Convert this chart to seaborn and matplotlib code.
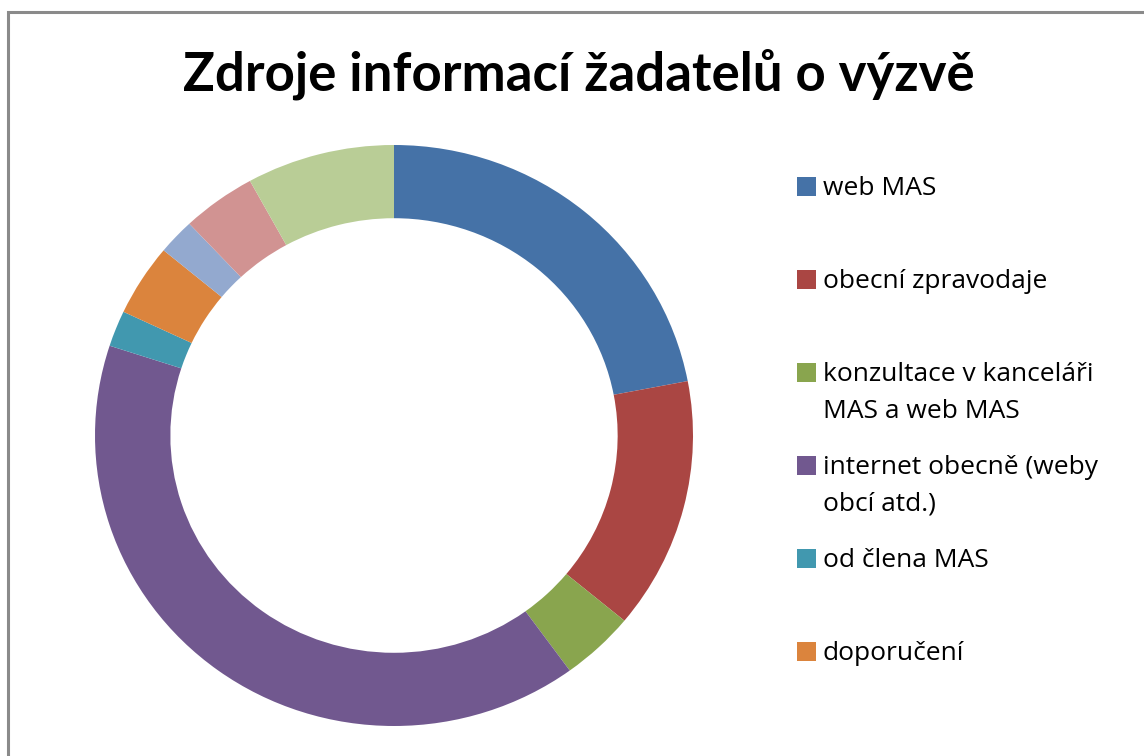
import matplotlib
matplotlib.use("Agg")
import matplotlib.pyplot as plt
from matplotlib.lines import Line2D
from matplotlib.patches import Rectangle
import seaborn as sns

# ---- data ----
title = "Zdroje informací žadatelů o výzvě"
categories = [
    "web MAS",
    "obecní zpravodaje",
    "konzultace v kanceláři\nMAS a web MAS",
    "internet obecně (weby\nobcí atd.)",
    "od člena MAS",
    "doporučení",
    "další zdroj 7",
    "další zdroj 8",
    "další zdroj 9",
]
values = [11, 7, 2, 20, 1, 2, 1, 2, 4]
colors = ["#4572A7", "#AA4643", "#89A54E", "#71588F", "#4198AF",
          "#DB843D", "#93A9CF", "#D19392", "#B9CD96"]
legend_shown = 6  # the legend in the original is cut after six entries

sns.set_theme(style="white")
plt.rcParams["font.family"] = ["Lato", "DejaVu Sans"]

W, H = 1144, 756
fig = plt.figure(figsize=(W / 100, H / 100), dpi=100)
fig.patch.set_facecolor("white")

# donut axes (slightly stretched horizontally, as in the original)
cx, cy, rx, ry = 394, 435.5, 299, 290.5
ax = fig.add_axes([(cx - rx) / W, (H - cy - ry) / H, 2 * rx / W, 2 * ry / H])
pal = sns.color_palette(colors)
ax.pie(values, colors=pal, startangle=90, counterclock=False,
       wedgeprops=dict(width=0.252, linewidth=0))
ax.set_aspect("auto")
ax.set_xlim(-1, 1)
ax.set_ylim(-1, 1)
ax.axis("off")

# title
fig.text(579 / W, 1 - 90 / H, title, ha="center", va="baseline",
         fontsize=38, fontweight="bold", color="black")

# legend (manual, to reproduce the fixed row spacing)
sq = 19
x_sq = 797
x_txt = 823
y0 = 186
step = 93
line_gap = 36.5
for i in range(legend_shown):
    yc = y0 + i * step
    fig.add_artist(Rectangle((x_sq / W, 1 - (yc + sq / 2) / H), sq / W, sq / H,
                             transform=fig.transFigure, facecolor=pal[i],
                             edgecolor="none"))
    for k, line in enumerate(categories[i].split("\n")):
        fig.text(x_txt / W, 1 - (yc + 9 + k * line_gap) / H, line,
                 ha="left", va="baseline", fontsize=19, color="black",
                 family=["Open Sans", "DejaVu Sans"])

# chart frame (partially visible)
fx, fy = 8 / W, 1 - 12 / H
fig.add_artist(Line2D([fx, fx, 1.01], [-0.01, fy, fy], transform=fig.transFigure,
                      color="#8a8a8a", linewidth=2.2, solid_joinstyle="miter"))

fig.savefig("out.png", dpi=100, facecolor="white")
